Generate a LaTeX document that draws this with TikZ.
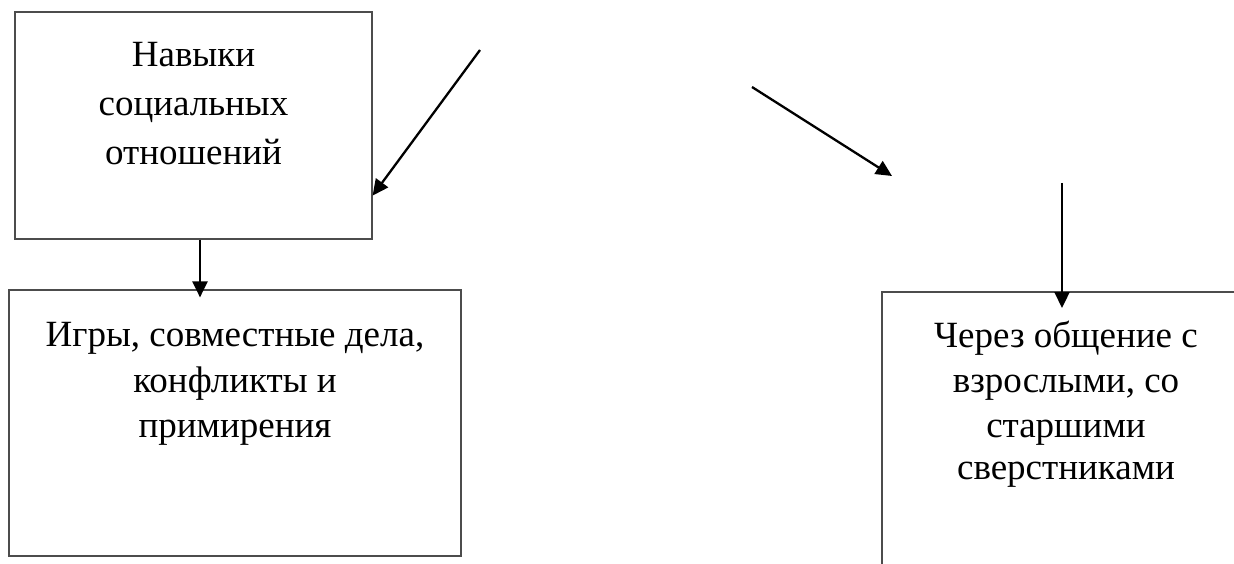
\documentclass[tikz,border=0pt]{standalone}
\usepackage{fontspec}
\setmainfont{Liberation Serif}
\usetikzlibrary{arrows.meta}
\tikzset{
  boxnode/.style={draw=black!70, line width=1.2pt, inner sep=0pt, fill=none},
  linetext/.style={anchor=base, inner sep=0pt, font=\fontsize{37}{44}\selectfont},
  conn/.style={line width=2.3pt, -{Triangle[length=16pt,width=15pt]}}
}
\begin{document}
\begin{tikzpicture}[x=1pt,y=-1pt]
\clip (0,0) rectangle (1234,564);
\fill[white] (0,0) rectangle (1234,564);
% boxes
\node[boxnode, minimum width=357pt, minimum height=227pt] (b1) at (193.5,125.5) {};
\node[boxnode, minimum width=452pt, minimum height=266pt] (b2) at (235,423) {};
\node[boxnode, minimum width=368pt, minimum height=300pt] (b3) at (1066,442) {};
% texts
\node[linetext] (t1a) at (193.5,67) {Навыки};
\node[linetext] (t1b) at (193.5,116) {социальных};
\node[linetext] (t1c) at (193.5,165) {отношений};
\node[linetext] (t2a) at (235,346) {Игры, совместные дела,};
\node[linetext] (t2b) at (235,392) {конфликты и};
\node[linetext] (t2c) at (235,437) {примирения};
\node[linetext] (t3a) at (1066,347) {Через общение с};
\node[linetext] (t3b) at (1066,392) {взрослыми, со};
\node[linetext] (t3c) at (1066,437) {старшими};
\node[linetext] (t3d) at (1066,479) {сверстниками};
% connectors
\coordinate (a1s) at (480,50);
\coordinate (a2s) at (752,87);
\coordinate (a2e) at (892,176);
\coordinate (a3s) at (1062,183);
\coordinate (a3e) at (1062,308);
\draw[conn] (a1s) -- ([yshift=44pt]b1.south east);
\draw[conn] (a2s) -- (a2e);
\draw[conn] (a3s) -- (a3e);
\draw[conn] ([xshift=6.5pt]b1.south) -- ([xshift=-35pt,yshift=-8pt]b2.north);
\end{tikzpicture}
\end{document}
